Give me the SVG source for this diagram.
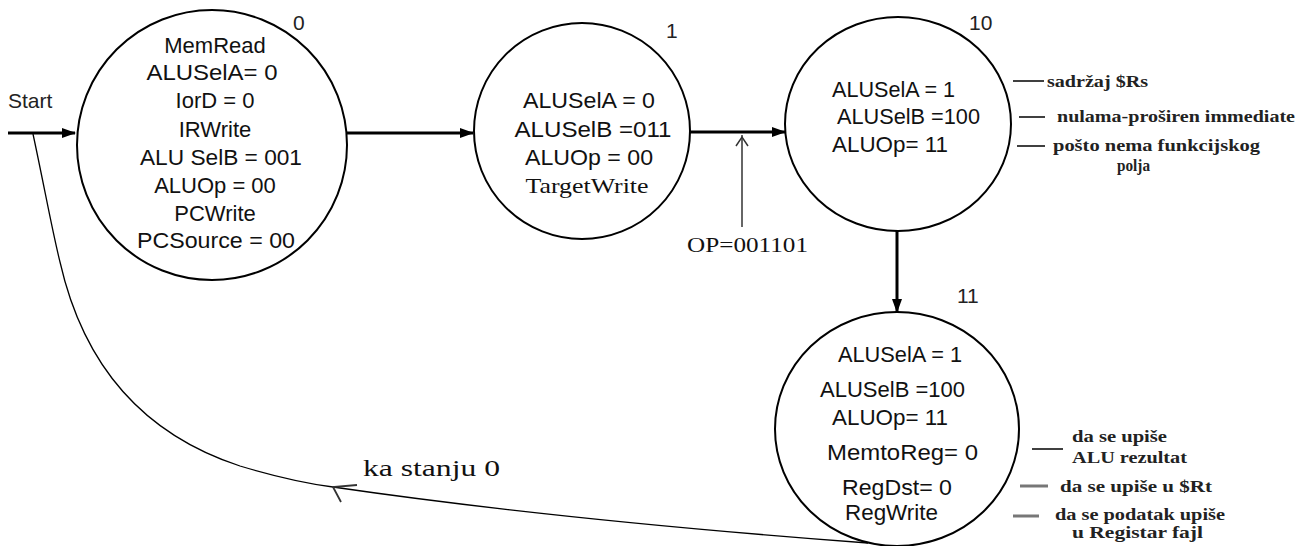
<svg xmlns="http://www.w3.org/2000/svg" width="1311" height="546" viewBox="0 0 1311 546">
<defs>
<marker id="ah" markerWidth="14" markerHeight="10" refX="13" refY="5" orient="auto" markerUnits="userSpaceOnUse">
<path d="M0,0 L14,5 L0,10 Z" fill="#000"/>
</marker>
<style>
.st{fill:#fff;stroke:#000;stroke-width:2}
.t{font-family:"Liberation Sans",Arial,sans-serif;font-size:22px;fill:#111}
.tc{font-family:"Liberation Sans",Arial,sans-serif;font-size:22px;fill:#111;text-anchor:middle}
.sr{font-family:"Liberation Serif","Times New Roman",serif;fill:#111}
.an{font-family:"Liberation Serif","Times New Roman",serif;font-size:16px;font-weight:bold;fill:#222}
.lbl{font-family:"Liberation Sans",Arial,sans-serif;font-size:21px;fill:#222}
.thick{stroke:#000;stroke-width:3;fill:none}
.thin{stroke:#000;stroke-width:1.3;fill:none}
.al{stroke:#000;stroke-width:1.5}
.ag{stroke:#777;stroke-width:3}
</style>
</defs>
<rect width="1311" height="546" fill="#fff"/>

<g id="connectors">
<line class="thick" x1="8" y1="133" x2="75" y2="133" marker-end="url(#ah)"/>
<line class="thick" x1="347" y1="133" x2="473" y2="133" marker-end="url(#ah)"/>
<line class="thick" x1="690" y1="132" x2="785" y2="132" marker-end="url(#ah)"/>
<line class="thick" x1="897" y1="231" x2="897" y2="312" marker-end="url(#ah)"/>
<path class="thin" d="M33,134 C45,190 52,230 60,262 C80,350 130,430 240,466 C280,478 310,484 333,487 Q560,520 868,543"/>
<path d="M357,485 L333,487 L341,502" fill="none" stroke="#333" stroke-width="1.8"/>
<line x1="742" y1="227" x2="742" y2="135" stroke="#333" stroke-width="1.5"/>
<path d="M736,146 L742,137 L748,146" fill="none" stroke="#333" stroke-width="1.5"/>
<text class="sr" x="687" y="252" font-size="20" textLength="121" lengthAdjust="spacingAndGlyphs">OP=001101</text>
<text class="sr" x="363" y="476" font-size="24" textLength="137" lengthAdjust="spacingAndGlyphs">ka stanju 0</text>
<text class="lbl" x="8" y="108" font-size="22">Start</text>
</g>

<g id="state0">
<circle class="st" cx="212" cy="145" r="135"/>
<text class="lbl" x="293" y="30">0</text>
<text class="tc" x="215" y="53">MemRead</text>
<text class="tc" x="212" y="80" textLength="131" lengthAdjust="spacingAndGlyphs">ALUSelA= 0</text>
<text class="tc" x="215" y="108">IorD = 0</text>
<text class="tc" x="215" y="137">IRWrite</text>
<text class="tc" x="221" y="165" textLength="162" lengthAdjust="spacingAndGlyphs">ALU SelB = 001</text>
<text class="tc" x="215" y="193">ALUOp = 00</text>
<text class="tc" x="215" y="221">PCWrite</text>
<text class="tc" x="216" y="248" textLength="158" lengthAdjust="spacingAndGlyphs">PCSource = 00</text>
</g>

<g id="state1">
<circle class="st" cx="582" cy="131" r="108"/>
<text class="lbl" x="666" y="38">1</text>
<text class="tc" x="589" y="108" textLength="132" lengthAdjust="spacingAndGlyphs">ALUSelA = 0</text>
<text class="tc" x="593" y="137" textLength="157" lengthAdjust="spacingAndGlyphs">ALUSelB =011</text>
<text class="tc" x="589" y="165" textLength="128" lengthAdjust="spacingAndGlyphs">ALUOp = 00</text>
<text class="sr" x="587" y="193" font-size="22" text-anchor="middle" textLength="123" lengthAdjust="spacingAndGlyphs">TargetWrite</text>
</g>

<g id="state10">
<ellipse class="st" cx="898" cy="124" rx="113" ry="107"/>
<text class="lbl" x="969" y="30">10</text>
<text class="t" x="832" y="97" textLength="123" lengthAdjust="spacingAndGlyphs">ALUSelA = 1</text>
<text class="t" x="837" y="124" textLength="143" lengthAdjust="spacingAndGlyphs">ALUSelB =100</text>
<text class="t" x="832" y="152" textLength="116" lengthAdjust="spacingAndGlyphs">ALUOp= 11</text>
<line class="al" x1="1013" y1="81" x2="1044" y2="81"/>
<text class="an" x="1047" y="87" textLength="101" lengthAdjust="spacingAndGlyphs">sadržaj $Rs</text>
<line class="al" x1="1019" y1="117" x2="1045" y2="117"/>
<text class="an" x="1057" y="122" textLength="238" lengthAdjust="spacingAndGlyphs">nulama-proširen immediate</text>
<line class="al" x1="1017" y1="146" x2="1045" y2="146"/>
<text class="an" x="1053" y="151" textLength="207" lengthAdjust="spacingAndGlyphs">pošto nema funkcijskog</text>
<text class="an" x="1117" y="171" textLength="33" lengthAdjust="spacingAndGlyphs">polja</text>
</g>

<g id="state11">
<ellipse class="st" cx="897" cy="429" rx="122" ry="117"/>
<text class="lbl" x="957" y="303">11</text>
<text class="t" x="838" y="362" textLength="124" lengthAdjust="spacingAndGlyphs">ALUSelA = 1</text>
<text class="t" x="820" y="397" textLength="145" lengthAdjust="spacingAndGlyphs">ALUSelB =100</text>
<text class="t" x="832" y="425" textLength="116" lengthAdjust="spacingAndGlyphs">ALUOp= 11</text>
<text class="t" x="827" y="460" textLength="151" lengthAdjust="spacingAndGlyphs">MemtoReg= 0</text>
<text class="t" x="842" y="495" textLength="110" lengthAdjust="spacingAndGlyphs">RegDst= 0</text>
<text class="t" x="845" y="520" textLength="93" lengthAdjust="spacingAndGlyphs">RegWrite</text>
<line class="al" x1="1032" y1="449" x2="1063" y2="449"/>
<text class="an" x="1072" y="442" textLength="95" lengthAdjust="spacingAndGlyphs">da se upiše</text>
<text class="an" x="1072" y="463" textLength="115" lengthAdjust="spacingAndGlyphs">ALU rezultat</text>
<line class="ag" x1="1020" y1="486" x2="1048" y2="486"/>
<text class="an" x="1060" y="492" textLength="152" lengthAdjust="spacingAndGlyphs">da se upiše u $Rt</text>
<line class="ag" x1="1013" y1="516" x2="1039" y2="516"/>
<text class="an" x="1055" y="520" textLength="170" lengthAdjust="spacingAndGlyphs">da se podatak upiše</text>
<text class="an" x="1072" y="538" textLength="131" lengthAdjust="spacingAndGlyphs">u Registar fajl</text>
</g>
</svg>
